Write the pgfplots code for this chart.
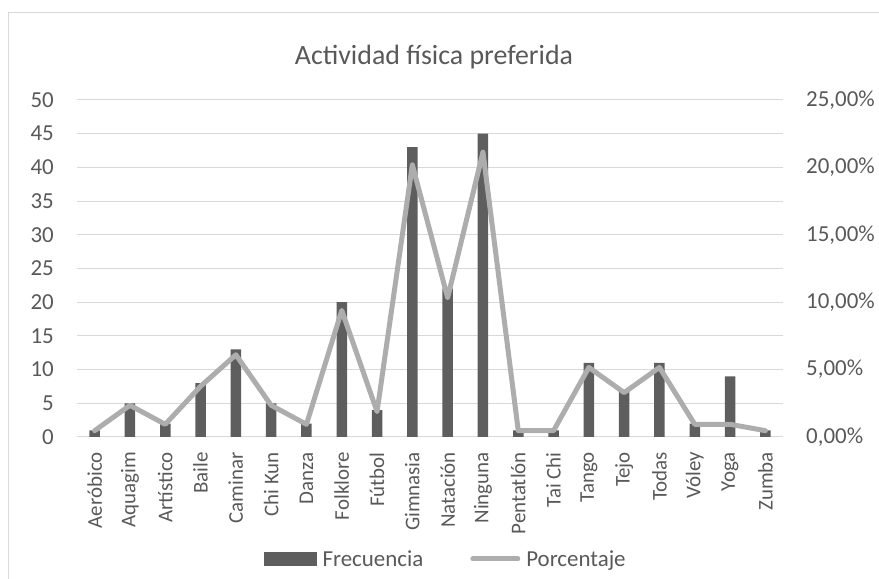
\documentclass[border=0pt]{standalone}
\usepackage{fontspec}
\setmainfont{Carlito}
\usepackage{pgfplots}
\pgfplotsset{compat=1.18}
\usepackage{pgfplotstable}
\definecolor{barc}{HTML}{5E5E5E}
\definecolor{linec}{HTML}{ADADAD}
\definecolor{txt}{HTML}{595959}
\definecolor{gridc}{HTML}{D9D9D9}
\pgfplotstableread{
x f p
0 1 0.47
1 5 2.35
2 2 0.94
3 8 3.76
4 13 6.10
5 5 2.35
6 2 0.94
7 20 9.39
8 4 1.88
9 43 20.19
10 22 10.33
11 45 21.13
12 1 0.47
13 1 0.47
14 11 5.16
15 7 3.29
16 11 5.16
17 2 0.94
18 9 0.94
19 1 0.47
}\datatable
\begin{document}
\begin{tikzpicture}[x=1bp,y=1bp]
\useasboundingbox (0,0) rectangle (879,579);
\draw[gridc, line width=1bp] (8,0) -- (8,566) -- (879,566);
\node[txt, font=\fontsize{28}{33}\selectfont] at (434,522) {Actividad física preferida};
\begin{axis}[
  at={(77bp,142bp)}, anchor=south west,
  scale only axis, width=706bp, height=337bp,
  xmin=-0.5, xmax=19.5, ymin=0, ymax=50,
  ytick={0,5,...,50},
  xtick={0,...,19},
  xticklabels={Aeróbico,Aquagim,Artístico,Baile,Caminar,Chi Kun,Danza,Folklore,Fútbol,Gimnasia,Natación,Ninguna,Pentatlón,Tai Chi,Tango,Tejo,Todas,Vóley,Yoga,Zumba},
  ymajorgrids, major grid style={gridc, line width=1bp},
  axis line style={draw=none},
  major tick length=0pt,
  tick label style={txt, font=\fontsize{23}{27}\selectfont},
  /pgf/number format/assume math mode=true,
  yticklabel style={anchor=east, inner sep=0pt, xshift=-23bp},
  xticklabel style={font=\fontsize{21}{25}\selectfont, rotate=90, anchor=east, inner sep=0pt, yshift=0bp},
  xticklabel shift=15bp,
]
\addplot[ybar, bar width=10.5bp, fill=barc, draw=none] table[x=x, y=f] {\datatable};
\end{axis}
\begin{axis}[
  at={(77bp,142bp)}, anchor=south west,
  scale only axis, width=706bp, height=337bp,
  xmin=-0.5, xmax=19.5, ymin=0, ymax=25,
  ytick={0,5,...,25},
  yticklabels={{0,00\%},{5,00\%},{10,00\%},{15,00\%},{20,00\%},{25,00\%}},
  xtick=\empty,
  axis line style={draw=none},
  major tick length=0pt,
  axis y line*=right,
  tick label style={txt, font=\fontsize{23}{27}\selectfont},
  yticklabel style={anchor=west, inner sep=0pt, xshift=23bp},
  legend columns=2,
  legend style={at={(0.2649,-0.362)}, anchor=west, draw=none, fill=none, inner sep=0pt,
    font=\fontsize{23}{27}\selectfont, text=txt,
    nodes={inner sep=0pt}},
  /tikz/every odd column/.append style={column sep=6bp},
  /tikz/every even column/.append style={column sep=47bp},
]
\addlegendimage{legend image code/.code={\fill[barc] (0bp,-6.5bp) rectangle (52bp,6.5bp);}}
\addlegendentry{Frecuencia}
\addplot[linec, line width=5bp, line join=round, line cap=round,
  legend image code/.code={\draw[linec, line width=5bp, line cap=round] (2.5bp,0bp) -- (47.5bp,0bp);}]
  table[x=x, y=p] {\datatable};
\addlegendentry{Porcentaje}
\end{axis}
\end{tikzpicture}
\end{document}
